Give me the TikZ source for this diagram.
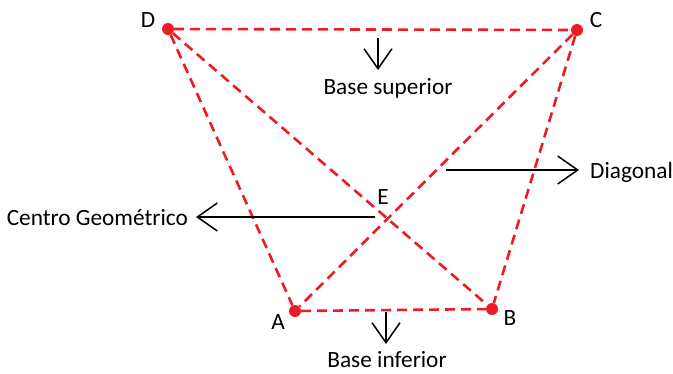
\documentclass[tikz,border=0pt]{standalone}
\usepackage{fontspec}
\setmainfont{Carlito}
\usetikzlibrary{arrows.meta}
\definecolor{dred}{RGB}{237,28,36}
\tikzset{
  vtx/.style={circle,fill=dred,inner sep=0pt,minimum size=12pt},
  edge/.style={dred,line width=2.6pt,dash pattern=on 10pt off 6pt},
  lbl/.style={font=\fontsize{23.3}{26}\selectfont,inner sep=0pt},
  pointer/.style={line width=1.5pt,-{Straight Barb[length=20pt,width=28pt,line width=1.5pt]}}
}
\begin{document}
\begin{tikzpicture}[x=1pt,y=-1pt]
\useasboundingbox (0,0) rectangle (673,373);
\node[vtx] (D) at (168,29) {};
\node[vtx] (C) at (577,30) {};
\node[vtx] (A) at (295,311) {};
\node[vtx] (B) at (492,309) {};
\draw[edge] (D) -- (C);
\draw[edge] (A) -- (B);
\draw[edge] (D) -- (A);
\draw[edge] (C) -- (B);
\draw[edge] (D) -- (B);
\draw[edge] (C) -- (A);
\node[lbl] (lD) at (148,20) {D};
\node[lbl] (lC) at (596,20) {C};
\node[lbl] (lA) at (278,322) {A};
\node[lbl] (lB) at (510,318) {B};
\node[lbl] (lE) at (383,197) {E};
\coordinate (bs0) at (378,38);
\coordinate (bs1) at (378,70);
\draw[pointer] (bs0) -- (bs1);
\node[lbl] (bs) at (388,88) {Base superior};
\coordinate (bi0) at (386,312);
\coordinate (bi1) at (386,344);
\draw[pointer] (bi0) -- (bi1);
\node[lbl] (bi) at (387,360) {Base inferior};
\coordinate (dg0) at (446,170);
\coordinate (dg1) at (579,170);
\draw[pointer] (dg0) -- (dg1);
\node[lbl,anchor=west] (dg) at (590,172) {Diagonal};
\coordinate (cg0) at (375,217);
\coordinate (cg1) at (196,217);
\draw[pointer] (cg0) -- (cg1);
\node[lbl,anchor=east] (cg) at (188,218) {Centro Geométrico};
\end{tikzpicture}
\end{document}
